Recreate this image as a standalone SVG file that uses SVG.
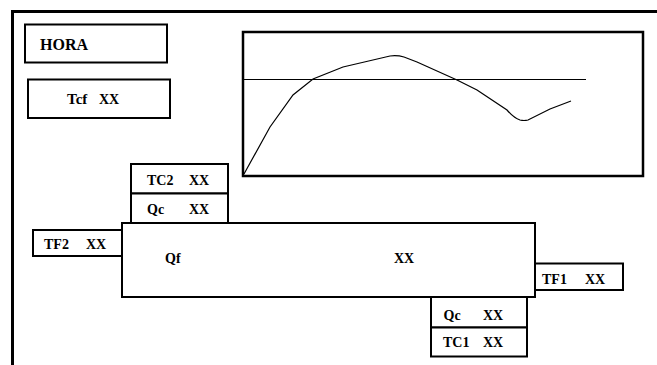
<svg xmlns="http://www.w3.org/2000/svg" width="657" height="365" viewBox="0 0 657 365">
<style>
.box{fill:#fff;stroke:#000;stroke-width:2}
.t{font-family:'Liberation Serif','Times New Roman',serif;font-weight:bold;font-size:14px;fill:#000}
.line{fill:none;stroke:#000;stroke-width:1.2}
</style>
<rect x="0" y="0" width="657" height="365" fill="#fff"/>
<path d="M12.5 367 V11.5 H660" fill="none" stroke="#000" stroke-width="3"/>
<g id="hora"><rect class="box" x="25" y="24.5" width="142" height="38"/><text class="t" x="40" y="49.5" style="font-size:16px">HORA</text></g>
<g id="tcf"><rect class="box" x="28" y="79.5" width="142" height="38.5"/><text class="t" x="67" y="103.5" style="font-size:15px">Tcf</text><text class="t" x="99" y="103.5">XX</text></g>
<g id="chart">
<rect x="243" y="32" width="400" height="144" fill="#fff" stroke="#000" stroke-width="2.5"/>
<line class="line" x1="243" y1="79.5" x2="586" y2="79.5"/>
<path class="line" d="M244 174 L270 127 L293 95 L313 79 L343 67 L390 56 Q397 55 404 57 L417 62 L457 80 L477 90 L507 110 Q514 118 520 120 Q524 121 528 120 L550 109 L571 101"/>
</g>
<g id="tc2"><rect class="box" x="131" y="164" width="97" height="29.5"/><text class="t" x="147" y="184.5">TC2</text><text class="t" x="189" y="184.5">XX</text></g>
<g id="qc2"><rect class="box" x="131" y="193.5" width="97" height="29.5"/><text class="t" x="147" y="213.5">Qc</text><text class="t" x="189" y="213.5">XX</text></g>
<g id="tf2"><rect class="box" x="33" y="230" width="89" height="26"/><text class="t" x="44" y="249">TF2</text><text class="t" x="86" y="249">XX</text></g>
<g id="main"><rect class="box" x="122" y="223" width="413" height="74"/><text class="t" x="165" y="263">Qf</text><text class="t" x="394" y="263">XX</text></g>
<g id="tf1"><rect class="box" x="535" y="263.5" width="88" height="26.5"/><text class="t" x="542" y="283.5">TF1</text><text class="t" x="585" y="283.5">XX</text></g>
<g id="qc1"><rect class="box" x="431" y="297" width="96" height="30.5"/><text class="t" x="443.5" y="319.5">Qc</text><text class="t" x="483" y="319.5">XX</text></g>
<g id="tc1"><rect class="box" x="431" y="327.5" width="96" height="29"/><text class="t" x="443" y="347">TC1</text><text class="t" x="483" y="347">XX</text></g>
</svg>
